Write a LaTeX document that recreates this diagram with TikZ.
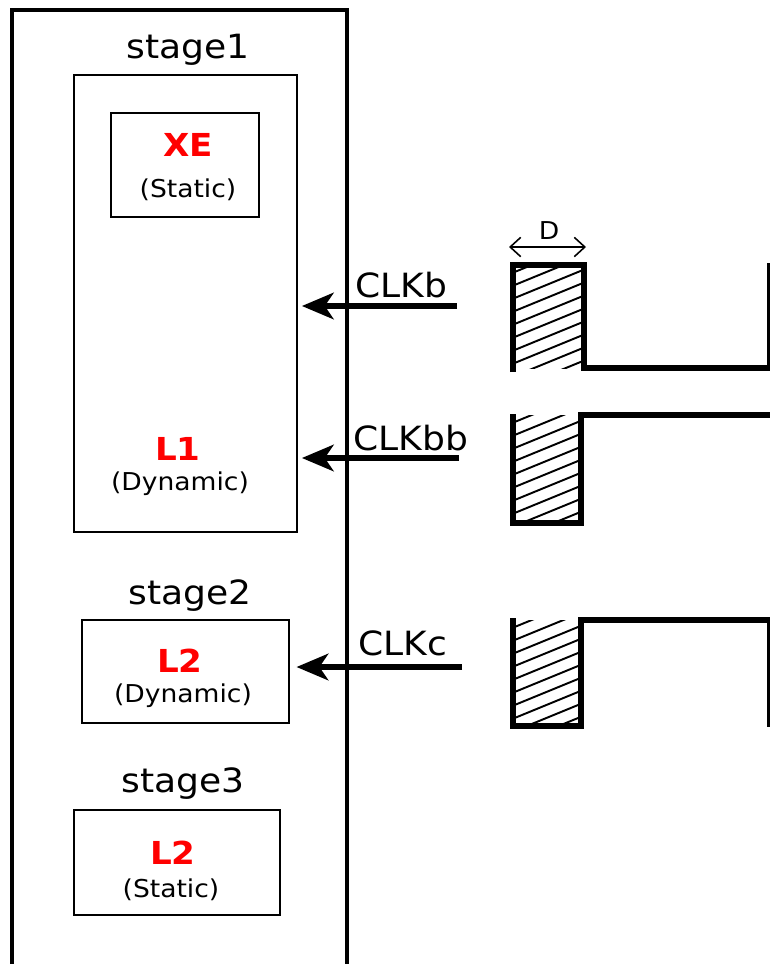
\documentclass[tikz,border=0pt]{standalone}
\usepackage{fontspec}
\setmainfont{DejaVu Sans}[FakeStretch=1.08]
\usetikzlibrary{arrows.meta}
\definecolor{lred}{RGB}{255,0,0}

\tikzset{
  box/.style={draw, line width=1.6pt, inner sep=0pt},
  stagelbl/.style={font=\fontsize{19}{22}\selectfont},
  latch/.style={font=\bfseries\fontsize{18}{21}\selectfont, text=lred},
  kind/.style={font=\fontsize{14}{16}\selectfont},
  clk/.style={line width=3.8pt, -{Stealth[length=18pt,width=15pt,inset=5pt]}},
  clklbl/.style={font=\fontsize{19}{22}\selectfont},
  wave/.style={line width=3pt},
  hatch/.style={line width=1.1pt},
}

\begin{document}
\begin{tikzpicture}[x=0.02cm, y=-0.02cm]
  \useasboundingbox (0,0) rectangle (770,964);

  % pipeline column
  \draw[line width=1.8pt] (12,970) -- (12,10) -- (347,10) -- (347,970);

  \node[stagelbl] (st1) at (188,50) {stage1};
  \node[box, minimum width=4.46cm, minimum height=9.14cm] (s1) at (185.5,303.5) {};
  \node[box, minimum width=2.96cm, minimum height=2.08cm] (xe) at (185,165) {};
  \node[latch] (xename) at (188,145) {XE};
  \node[kind] (xekind) at (188,190) {(Static)};
  \node[latch] (lone) at (178,449) {L1};
  \node[kind] (lonekind) at (180,484) {(Dynamic)};

  \node[stagelbl] (st2) at (190,596) {stage2};
  \node[box, minimum width=4.14cm, minimum height=2.06cm] (s2) at (185.5,671.5) {};
  \node[latch] (ltwo) at (180,661) {L2};
  \node[kind] (ltwokind) at (183,696) {(Dynamic)};

  \node[stagelbl] (st3) at (183,784) {stage3};
  \node[box, minimum width=4.12cm, minimum height=2.1cm] (s3) at (177,862.5) {};
  \node[latch] (lthree) at (173,853) {L2};
  \node[kind] (lthreekind) at (171,890) {(Static)};

  % clocks
  \coordinate (cb) at (457,306);
  \coordinate (cbb) at (459,458);
  \coordinate (cc) at (462,667);
  \draw[clk, shorten >=2pt] (cb) -- (s1.east |- cb);
  \draw[clk, shorten >=2pt] (cbb) -- (s1.east |- cbb);
  \draw[clk, shorten >=3.5pt] (cc) -- (s2.east |- cc);
  \node[clklbl] (lcb) at (401,285) {CLKb};
  \node[clklbl] (lcbb) at (411,438) {CLKbb};
  \node[clklbl] (lcc) at (403,643) {CLKc};

  % D
  \coordinate (d1) at (509,247);
  \coordinate (d2) at (586,247);
  \draw[line width=0.9pt, {Straight Barb[length=6pt,width=11pt]}-{Straight Barb[length=6pt,width=11pt]}] (d1) -- (d2);
  \node[font=\fontsize{14}{16}\selectfont] (dl) at (549,231) {D};

  % hatched pulses
  \begin{scope}
    \clip (513,265) rectangle (584,368);
    \foreach \k in {0,...,12} \draw[hatch] (500,265+\k*13) -- ++(100,-41);
  \end{scope}
  \begin{scope}
    \clip (513,415) rectangle (581,523);
    \foreach \k in {0,...,12} \draw[hatch] (500,415+\k*13) -- ++(100,-41);
  \end{scope}
  \begin{scope}
    \clip (513,620) rectangle (581,726);
    \foreach \k in {0,...,12} \draw[hatch] (500,620+\k*13) -- ++(100,-41);
  \end{scope}

  % waveforms
  \draw[wave] (513,372) -- (513,265) -- (584,265) -- (584,368) -- (770,368) -- (770,263);
  \draw[wave] (513,414) -- (513,523) -- (581,523) -- (581,415) -- (772,415);
  \draw[wave] (513,618) -- (513,726) -- (581,726) -- (581,620) -- (770,620) -- (770,727);
\end{tikzpicture}
\end{document}
